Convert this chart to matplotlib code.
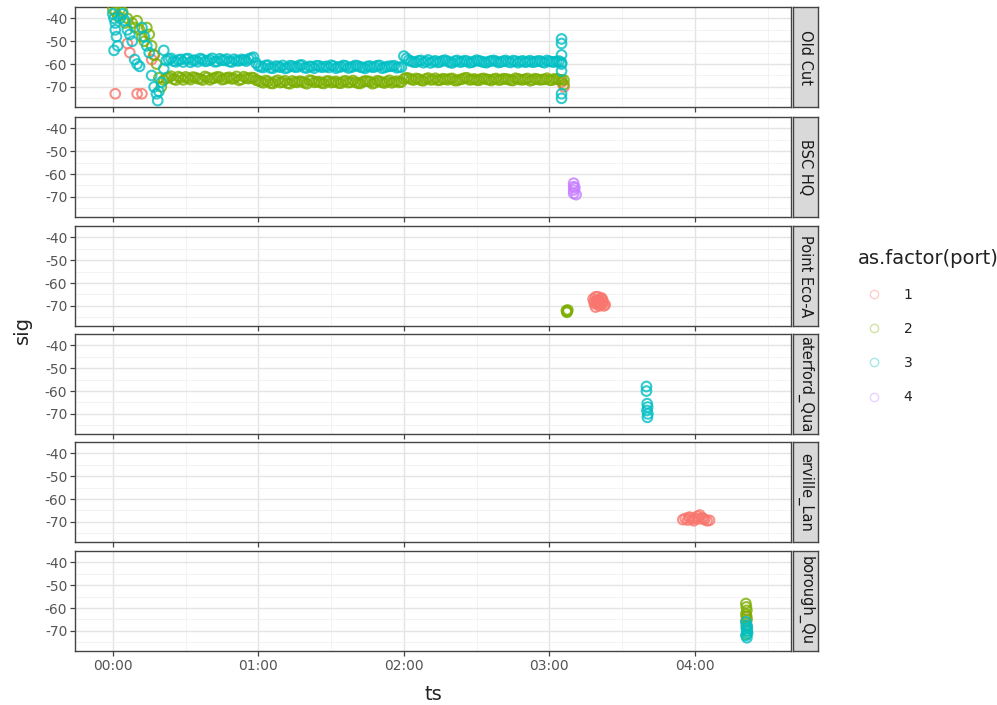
import matplotlib.pyplot as plt
from matplotlib.lines import Line2D

# facet / legend labels (strip text as it shows, cut by the strip box)
sites = ["Old Cut", "BSC HQ", "Point Eco-A", "aterford_Qua",
         "erville_Lan", "borough_Qu"]
ports = [1, 2, 3, 4]
port_colors = ["#F8766D", "#7CAE00", "#00BFC4", "#C77CFF"]
hour_ticks = [0, 1, 2, 3, 4]
hour_labels = ["00:00", "01:00", "02:00", "03:00", "04:00"]
sig_ticks = [-40, -50, -60, -70]

# Old Cut: steady band of readings (minutes after 00:00), even minutes
band_t = [22, 24, 26, 28, 30, 32, 34, 36, 38, 40, 42, 44, 46, 48, 50, 52, 54, 56,
          58,
          60, 62, 64, 66, 68, 70, 72, 74, 76, 78, 80, 82, 84, 86, 88, 90, 92, 94,
          96, 98, 100, 102, 104, 106, 108, 110, 112, 114, 116, 118,
          120,
          122, 124, 126, 128, 130, 132, 134, 136, 138, 140, 142, 144, 146, 148,
          150, 152, 154, 156, 158, 160, 162, 164, 166, 168, 170, 172, 174, 176,
          178, 180, 182, 184]
band_sig3 = [-58.5, -57.5, -59, -58, -57.8, -59.2, -58.3, -57.6, -58.8, -58.1, -59,
             -57.7, -58.4, -58.9, -57.9, -58.6, -58.2, -57.8,
             -57,
             -60.8, -61.5, -60.5, -61.8, -61, -60.6, -61.6, -60.9, -61.3, -60.4,
             -61.7, -61.1, -60.7, -61.4, -61, -60.5, -61.8, -61.2, -60.8, -61.5,
             -60.6, -61.3, -61.9, -60.9, -61.2, -60.6, -61.5, -61, -60.7, -61.4,
             -56.5,
             -58.3, -59.1, -58.6, -59.4, -58.2, -58.9, -59.3, -58.5, -58.8, -59.5,
             -58.4, -59, -58.7, -59.2, -58.3, -58.9, -59.4, -58.6, -58.8, -59.1,
             -58.4, -59.3, -58.7, -58.9, -59.2, -58.5, -59, -58.6, -59.4, -58.8,
             -59.1, -58.7]
band_sig2 = [-66.2, -65.3, -67, -66, -65.6, -66.8, -65.9, -66.5, -65.4, -66.9,
             -66.1, -65.7, -66.6, -65.8, -66.3, -67.1, -65.5, -66.4,
             -66,
             -67.3, -68.2, -67.6, -68.5, -67.1, -67.9, -68.4, -67.4, -68, -67.7,
             -68.6, -67.2, -67.8, -68.3, -67.5, -68.1, -67.6, -68.4, -67.3, -68,
             -67.9, -68.5, -67.4, -67.7, -68.2, -67.6, -68.3, -67.1, -67.8, -68,
             -66.5,
             -66.2, -67, -66.5, -67.3, -66.1, -66.8, -67.1, -66.4, -66.9, -66.3,
             -67.2, -66.6, -66, -66.8, -67, -66.4, -66.7, -67.2, -66.3, -66.9,
             -66.5, -67.1, -66.2, -66.8, -66.6, -67.3, -66.4, -66.9, -66.7, -67,
             -66.5, -66.8]

# Old Cut band, odd minutes
band_t_b = [23, 25, 27, 29, 31, 33, 35, 37, 39, 41, 43, 45, 47, 49, 51, 53, 55, 57,
            59,
            61, 63, 65, 67, 69, 71, 73, 75, 77, 79, 81, 83, 85, 87, 89, 91, 93, 95,
            97, 99, 101, 103, 105, 107, 109, 111, 113, 115, 117, 119,
            121,
            123, 125, 127, 129, 131, 133, 135, 137, 139, 141, 143, 145, 147, 149,
            151, 153, 155, 157, 159, 161, 163, 165, 167, 169, 171, 173, 175, 177,
            179, 181, 183, 185]
band_sig3_b = [-57.9, -58.7, -58.2, -59.1, -57.6, -58.4, -59, -58, -58.6, -57.5,
               -58.9, -58.3, -57.8, -59.1, -58.5, -58, -58.7, -57.4,
               -59.5,
               -61.2, -60.6, -61.7, -60.9, -61.4, -61.9, -60.7, -61.3, -60.5, -61.6,
               -61, -61.8, -60.8, -61.2, -61.5, -60.9, -61.3, -60.6, -61.7, -61.1,
               -60.8, -61.5, -61, -61.4, -60.7, -61.8, -61.1, -60.9, -61.6, -61.3,
               -57.5,
               -58.8, -59.2, -58.4, -58.9, -59.5, -58.6, -59, -58.3, -59.3, -58.7,
               -59.1, -58.5, -59.4, -58.8, -58.6, -59.2, -58.9, -58.4, -59.3, -58.7,
               -59, -58.5, -59.4, -58.6, -58.9, -59.2, -58.7, -59.1, -58.4, -59,
               -58.8, -59.3]
band_sig2_b = [-65.8, -66.6, -65.5, -66.9, -66.2, -65.7, -66.4, -67, -65.9, -66.3,
               -65.6, -66.8, -66, -66.5, -65.4, -66.7, -66.1, -65.9,
               -67,
               -67.8, -67.2, -68.4, -67.6, -68.1, -67.3, -68.6, -67.9, -67.5, -68.2,
               -67.1, -68, -67.7, -68.5, -67.4, -67.9, -68.3, -67.6, -68.1, -67.2,
               -68.4, -67.8, -67.5, -68.6, -67.3, -68, -67.7, -68.2, -67.5, -67.9,
               -66,
               -66.7, -66.3, -67.1, -66.5, -66.9, -66.2, -67, -66.6, -66.4, -67.2,
               -66.8, -66.1, -66.9, -66.5, -67.1, -66.3, -66.8, -66.6, -67, -66.4,
               -66.7, -67.2, -66.5, -66.9, -66.3, -67, -66.6, -66.8, -66.2, -67.1,
               -66.5, -66.9]

# Old Cut: scattered readings at start and end
oc3_t = [0, 0.5, 1, 1, 1.5, 2, 0.5, 3, 4, 5, 6, 7, 8, 9, 10, 11, 12, 13, 14, 15,
         16, 17, 18, 18.5, 19, 20, 21, 21, 185, 185, 185, 185, 185, 185, 185]
oc3_sig = [-38, -40, -42, -45, -48, -52, -54, -40, -38, -41, -45, -47, -50, -58,
           -60, -61, -44, -48, -52, -55, -65, -70, -73, -76, -72, -68, -62, -54,
           -49, -51, -56, -60, -63, -73, -75]
oc2_t = [0, 1, 2, 3, 4, 5, 6, 8, 9, 10, 11, 12, 13, 14, 15, 16, 17, 18, 19, 20,
         21, 186, 186]
oc2_sig = [-36, -37, -39, -36, -37, -42, -40, -42, -44, -41, -45, -48, -50, -44,
           -47, -52, -56, -60, -66, -70, -67, -67, -69]
oc1_t = [1, 10, 12, 6, 7, 16, 17, 185, 186]
oc1_sig = [-73, -73, -73, -51, -55, -58, -56, -68, -70]

bsc4_t = [190, 190, 190, 190, 191, 190.5]
bsc4_sig = [-64, -65.5, -67, -68.5, -69, -66]

eco2_t = [187, 187.3, 187.6, 187.2]
eco2_sig = [-72, -72.5, -71.8, -72.8]
eco1_t = [198, 198.5, 199, 199.5, 200, 200.5, 201, 201.5, 202, 202.5,
          199, 200, 201, 202, 198.5, 200.5, 201.5, 203, 199.5, 202]
eco1_sig = [-67, -68, -66, -69, -67.5, -70, -68, -66.5, -69, -70,
            -70.5, -66, -69.5, -67.5, -69, -68.5, -67, -69.5, -68, -68.5]

wat3_t = [220, 220, 220.3, 220.5, 220.2, 220.6, 220.4]
wat3_sig = [-58, -60, -65.5, -67, -68.5, -70, -71.5]

sum1_t = [235, 236, 237, 238, 239, 240, 241, 242, 243, 244, 245, 246,
          237.5, 239.5, 241.5, 243.5]
sum1_sig = [-69, -68.5, -69.2, -68, -68.8, -68.3, -67.5, -67, -68.2, -69, -69.5,
            -69.3, -68, -69.5, -68.7, -68.6]

sca2_t = [261, 261.2, 261.4, 261, 261.3, 261.5, 261.2, 261.5, 261.3]
sca2_sig = [-58, -59.5, -61, -62.5, -63.5, -65, -68, -70, -71.5]
sca1_t = [261.2, 261, 261.4]
sca1_sig = [-64, -66, -67.5]
sca3_t = [261, 261.3, 261.6, 261.2, 261.5, 261.7, 261, 261.4]
sca3_sig = [-66, -67.5, -68.5, -69, -70, -71, -72, -73]

panel_series = [
    [(1, oc1_t, oc1_sig), (2, oc2_t, oc2_sig), (2, band_t, band_sig2),
     (2, band_t_b, band_sig2_b), (3, oc3_t, oc3_sig), (3, band_t, band_sig3),
     (3, band_t_b, band_sig3_b)],
    [(4, bsc4_t, bsc4_sig)],
    [(1, eco1_t, eco1_sig), (2, eco2_t, eco2_sig)],
    [(3, wat3_t, wat3_sig)],
    [(1, sum1_t, sum1_sig)],
    [(1, sca1_t, sca1_sig), (2, sca2_t, sca2_sig), (3, sca3_t, sca3_sig)],
]

W, H = 997, 705
fig = plt.figure(figsize=(W / 100, H / 100), dpi=100)


def box(x0, y0, w, h):
    # pixel box (top-left origin) -> figure fraction
    return [x0 / W, 1 - (y0 + h) / H, w / W, h / H]


panel_tops = [7, 117, 226, 334, 442, 551]
panel_h = 100
border = "#444444"
tick_col = "#555555"

for i, site in enumerate(sites):
    ax = fig.add_axes(box(75, panel_tops[i], 716, panel_h))
    for port, t, s in panel_series[i]:
        ax.scatter([m / 60 for m in t], s, s=48, facecolors="none",
                   edgecolors=port_colors[ports.index(port)], linewidths=1.5,
                   alpha=0.8, zorder=3)
    ax.set_xlim(-0.26, 4.66)
    ax.set_ylim(-78.8, -35.2)
    ax.set_xticks(hour_ticks)
    ax.set_xticks([h + 0.5 for h in hour_ticks], minor=True)
    ax.set_yticks(sig_ticks)
    ax.set_yticks([v + 5 for v in sig_ticks] + [-75], minor=True)
    ax.set_yticklabels([str(v) for v in sig_ticks], fontsize=10, color=tick_col)
    if i == len(sites) - 1:
        ax.set_xticklabels(hour_labels, fontsize=10, color=tick_col)
    else:
        ax.set_xticklabels([])
    ax.tick_params(which="major", length=3.5, width=0.9, color=border, pad=2)
    ax.tick_params(which="minor", length=0)
    ax.grid(which="major", color="#e4e4e4", linewidth=1.0)
    ax.grid(which="minor", color="#f1f1f1", linewidth=0.6)
    ax.set_axisbelow(True)
    for sp in ax.spines.values():
        sp.set_color(border)
        sp.set_linewidth(1.0)

    st = fig.add_axes(box(793, panel_tops[i], 25, panel_h))
    st.set_facecolor("#d9d9d9")
    st.set_xticks([])
    st.set_yticks([])
    for sp in st.spines.values():
        sp.set_color(border)
        sp.set_linewidth(1.0)
    st.text(0.5, 0.5, site, rotation=-90, ha="center", va="center",
            fontsize=10.5, color="#1a1a1a", transform=st.transAxes, clip_on=True)

fig.text(22 / W, 1 - 330 / H, "sig", rotation=90, ha="center", va="center",
         fontsize=14, color="#222222")
fig.text(433 / W, 1 - 695 / H, "ts", ha="center", va="center",
         fontsize=14, color="#222222")

fig.text(858 / W, 1 - 258 / H, "as.factor(port)", ha="left", va="center",
         fontsize=14, color="#222222")
handles = [Line2D([], [], marker="o", linestyle="none", markerfacecolor="none",
                  markeredgecolor=c, markersize=6, markeredgewidth=1.0, alpha=0.35)
           for c in port_colors]
fig.legend(handles, [str(p) for p in ports], loc="upper left",
           bbox_to_anchor=(864 / W, 1 - 288 / H), borderaxespad=0, borderpad=0,
           frameon=False, fontsize=10, labelspacing=1.45, handletextpad=1.35,
           handlelength=1.5, labelcolor="#222222")

fig.savefig("out.png", dpi=100)
